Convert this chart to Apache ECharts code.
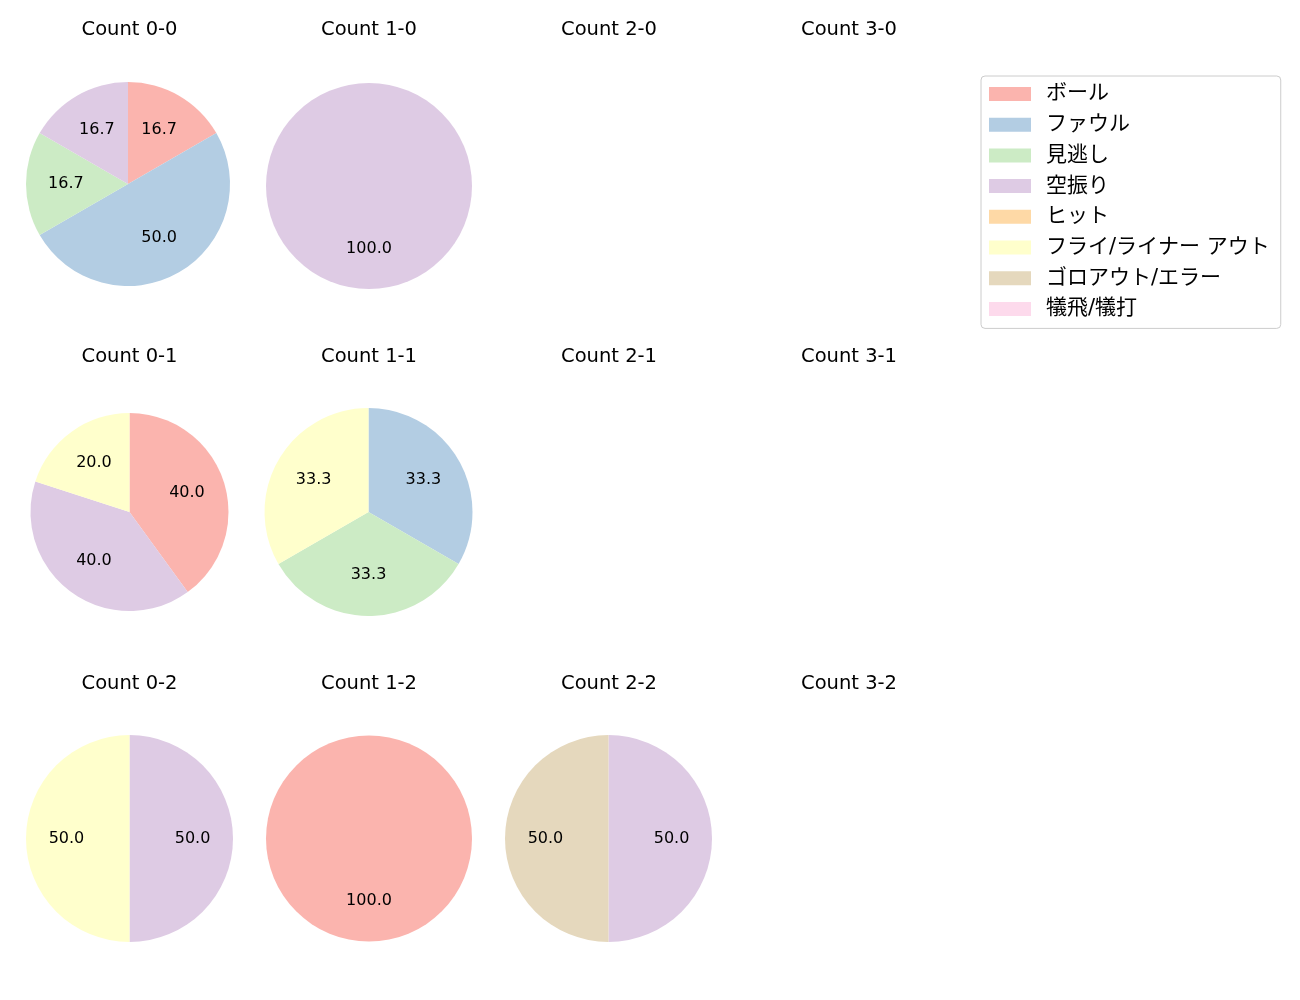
<!DOCTYPE html>
<html>
<head>
<meta charset="utf-8">
<script src="https://cdn.jsdelivr.net/npm/echarts@6/dist/echarts.min.js"></script>
<style>html,body{margin:0;padding:0;background:#fff}#main{width:1300px;height:1000px}</style>
</head>
<body>
<div id="main"></div>
<script>
const categories = ['ボール','ファウル','見逃し','空振り','ヒット','フライ/ライナー アウト','ゴロアウト/エラー','犠飛/犠打'];
const colors = ['#fbb4ae','#b3cde3','#ccebc5','#decbe4','#fed9a6','#ffffcc','#e5d8bd','#fddaec'];
const panelTitles = ['Count 0-0','Count 1-0','Count 2-0','Count 3-0','Count 0-1','Count 1-1','Count 2-1','Count 3-1','Count 0-2','Count 1-2','Count 2-2','Count 3-2'];
const count00 = [1,3,1,1,0,0,0,0];
const count10 = [0,0,0,1,0,0,0,0];
const count20 = [];
const count30 = [];
const count01 = [2,0,0,2,0,1,0,0];
const count11 = [0,1,1,0,0,1,0,0];
const count21 = [];
const count31 = [];
const count02 = [0,0,0,1,0,1,0,0];
const count12 = [1,0,0,0,0,0,0,0];
const count22 = [0,0,0,1,0,0,1,0];
const count32 = [];
const panelValues = [count00,count10,count20,count30,count01,count11,count21,count31,count02,count12,count22,count32];

const FONT = '"DejaVu Sans", "Noto Sans CJK JP", sans-serif';
const colX = [129.5, 369, 609, 849];
const rowTitleY = [20.5, 347.5, 674.5];
const panelCenters = [[128,184],[369,186],null,null,[129.5,512],[368.5,512],null,null,[129.5,838.5],[369,838.5],[608.5,838.5],null];
const panelRadius = [102,103,0,0,99,104,0,0,103.5,103,103.5,0];

const series = [];
// legend provider (invisible)
series.push({
  type: 'pie', radius: 0, center: [-100, -100], silent: true, animation: false,
  label: {show: false}, labelLine: {show: false},
  data: categories.map((c, i) => ({name: c, value: 1, itemStyle: {color: colors[i]}}))
});
const titles = [];
panelTitles.forEach((t, idx) => {
  const col = idx % 4, row = Math.floor(idx / 4);
  titles.push({
    text: t, left: colX[col], top: rowTitleY[row], textAlign: 'center', padding: 0,
    textStyle: {fontFamily: FONT, fontSize: 19.5, fontWeight: 'normal', color: '#000'}
  });
  const vals = panelValues[idx];
  const data = [];
  vals.forEach((v, i) => { if (v > 0) data.push({name: categories[i], value: v, itemStyle: {color: colors[i]}}); });
  if (!data.length) return;
  const center = panelCenters[idx];
  const R = panelRadius[idx];
  series.push({
    type: 'pie', center: center, radius: [0, R], startAngle: 90, clockwise: true,
    animation: false, silent: true, avoidLabelOverlap: false,
    itemStyle: {borderWidth: 0},
    label: {show: false}, labelLine: {show: false},
    emphasis: {disabled: true},
    data: data
  });
  series.push({
    type: 'pie', center: center, radius: [R * 0.16, R], startAngle: 90, clockwise: true,
    animation: false, silent: true, avoidLabelOverlap: false,
    itemStyle: {color: 'rgba(0,0,0,0)', borderWidth: 0},
    label: {show: true, position: 'inside', fontFamily: FONT, fontSize: 16, color: '#000',
      formatter: p => p.percent.toFixed(1)},
    labelLine: {show: false},
    emphasis: {disabled: true},
    data: data.map(d => ({name: d.name, value: d.value}))
  });
});

const chart = echarts.init(document.getElementById('main'), null, {renderer: 'canvas'});
chart.setOption({
  backgroundColor: '#fff',
  animation: false,
  title: titles,
  legend: {
    data: categories, orient: 'vertical', left: 981, top: 76,
    icon: 'rect', itemWidth: 42, itemHeight: 14, itemGap: 9.7,
    padding: [7.5, 11, 9, 8],
    backgroundColor: '#fff', borderColor: '#cccccc', borderWidth: 1, borderRadius: 4,
    textStyle: {fontFamily: FONT, fontSize: 21, color: '#000', padding: [0, 0, 0, 10], lineHeight: 21},
    selectedMode: false
  },
  series: series
});
</script>
</body>
</html>
